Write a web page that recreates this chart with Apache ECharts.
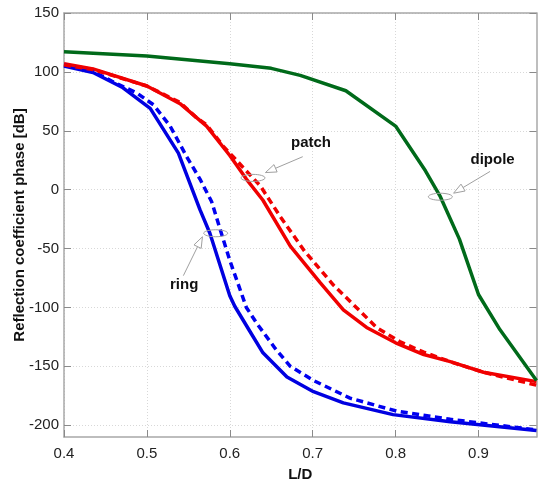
<!DOCTYPE html>
<html>
<head>
<meta charset="utf-8">
<script src="https://cdn.jsdelivr.net/npm/echarts@6/dist/echarts.min.js"></script>
<style>html,body{margin:0;padding:0;background:#fff}#c{width:538px;height:485px}</style>
</head>
<body>
<div id="c"></div>
<script>
// ---- data ----
const xTicks = [0.4, 0.5, 0.6, 0.7, 0.8, 0.9];
const yTicks = [-200, -150, -100, -50, 0, 50, 100, 150];

const dipole = [[0.4,117],[0.5,113.5],[0.6,107],[0.65,103],[0.685,97],[0.74,84],[0.8,54],[0.836,16],[0.854,-6],[0.877,-42],[0.9,-89],[0.926,-119],[0.97,-162]];

const patchSolid = [[0.4,107],[0.435,102.5],[0.5,88],[0.54,73],[0.572,54],[0.6,29],[0.62,9],[0.64,-9],[0.673,-48],[0.709,-79],[0.737,-102],[0.765,-117],[0.8,-130],[0.834,-140],[0.866,-146],[0.906,-155],[0.97,-163]];

const patchDashed = [[0.4,106],[0.435,102],[0.5,88],[0.54,74],[0.56,61],[0.572,55],[0.592,37],[0.604,28],[0.637,3],[0.661,-23],[0.69,-52],[0.725,-81],[0.757,-103],[0.777,-117],[0.805,-129],[0.834,-138],[0.87,-147],[0.906,-155],[0.97,-166]];

const ringSolid = [[0.4,105],[0.435,99.5],[0.47,87],[0.504,69],[0.538,31],[0.564,-17],[0.576,-37],[0.6,-90],[0.606,-99],[0.624,-120],[0.64,-138.5],[0.669,-159],[0.701,-171.5],[0.737,-181],[0.797,-191],[0.866,-197],[0.97,-204.5]];

const ringDashed = [[0.4,106],[0.435,100.5],[0.458,92],[0.488,82],[0.508,72],[0.528,54],[0.548,28],[0.564,9],[0.578,-10],[0.592,-42],[0.6,-60],[0.62,-100],[0.633,-114],[0.655,-135],[0.673,-150],[0.701,-162],[0.745,-177],[0.801,-188],[0.866,-195],[0.97,-204]];

// annotations: label, ellipse centre (x,y), label centre (x,y), arrow start (x,y), arrow tip (x,y)
const annoLabels = ['patch', 'ring', 'dipole'];
const annoEllipse = [[0.628, 10], [0.583, -37], [0.854, -6]];
const annoText = [[0.698, 40], [0.545, -81], [0.917, 25]];
const annoArrowFrom = [[0.688, 28], [0.544, -73], [0.914, 15.5]];
const annoArrowTo = [[0.643, 14.5], [0.567, -40], [0.870, -3]];

const annoData = annoLabels.map((l, i) => [
  annoEllipse[i][0], annoEllipse[i][1], annoText[i][0], annoText[i][1],
  annoArrowFrom[i][0], annoArrowFrom[i][1], annoArrowTo[i][0], annoArrowTo[i][1]
]);

// ---- chart ----
const FONT = '"Liberation Sans", Arial, sans-serif';
const chart = echarts.init(document.getElementById('c'), null, {renderer: 'canvas'});

const frameLine = {show: true, onZero: false, lineStyle: {color: '#a8a8a8', width: 1.5}};
const tickStyle = {color: '#8a8a8a', width: 1};
const gridLine = {show: true, lineStyle: {color: '#d8d8d8', type: [1, 2], width: 1}};

function lineSeries(name, data, color, dashed, z) {
  return {
    name, type: 'line', data, showSymbol: false, symbol: 'none', smooth: false,
    xAxisIndex: 0, yAxisIndex: 0, z,
    lineStyle: {color, width: 3.5, type: dashed ? [7, 4.5] : 'solid', cap: 'butt', join: 'round'},
    emphasis: {disabled: true}, silent: true
  };
}

chart.setOption({
  animation: false,
  backgroundColor: '#fff',
  grid: {left: 64, right: 1.5, top: 13, bottom: 48, containLabel: false, outerBoundsMode: 'none'},
  xAxis: [{
    type: 'value', min: 0.4, max: 0.97, position: 'bottom',
    axisLine: frameLine,
    axisTick: {show: true, inside: true, length: 7, customValues: xTicks, lineStyle: tickStyle},
    axisLabel: {customValues: xTicks, fontSize: 15, color: '#222', margin: 9, fontFamily: FONT},
    splitLine: gridLine,
    name: 'L/D', nameLocation: 'middle', nameGap: 30, nameMoveOverlap: false,
    nameTextStyle: {fontWeight: 'bold', fontSize: 15, color: '#111', fontFamily: FONT}
  }, {
    type: 'value', min: 0.4, max: 0.97, position: 'top',
    axisLine: frameLine,
    axisTick: {show: true, inside: true, length: 7, customValues: xTicks, lineStyle: tickStyle},
    axisLabel: {show: false}, splitLine: {show: false}
  }],
  yAxis: [{
    type: 'value', min: -210, max: 150, position: 'left',
    axisLine: frameLine,
    axisTick: {show: true, inside: true, length: 7, customValues: yTicks, lineStyle: tickStyle},
    axisLabel: {customValues: yTicks, fontSize: 15, color: '#222', margin: 5, fontFamily: FONT},
    splitLine: gridLine,
    name: 'Reflection coefficient phase [dB]', nameLocation: 'middle', nameGap: 37, nameRotate: 90,
    nameMoveOverlap: false,
    nameTextStyle: {fontWeight: 'bold', fontSize: 15, color: '#111', fontFamily: FONT}
  }, {
    type: 'value', min: -210, max: 150, position: 'right',
    axisLine: frameLine,
    axisTick: {show: true, inside: true, length: 7, customValues: yTicks, lineStyle: tickStyle},
    axisLabel: {show: false}, splitLine: {show: false}
  }],
  series: [
    lineSeries('ring dashed', ringDashed, '#0000f0', true, 3),
    lineSeries('ring', ringSolid, '#0000e0', false, 2),
    lineSeries('patch', patchSolid, '#f00000', false, 2),
    lineSeries('patch dashed', patchDashed, '#f00000', true, 3),
    lineSeries('dipole', dipole, '#006a1a', false, 4),
    {
      type: 'custom', xAxisIndex: 0, yAxisIndex: 0, z: 10, silent: true, clip: false,
      encode: {x: 0, y: 1},
      data: annoData,
      renderItem(params, api) {
        const i = params.dataIndex;
        const c = api.coord([api.value(0), api.value(1)]);
        const t = api.coord([api.value(2), api.value(3)]);
        const s = api.coord([api.value(4), api.value(5)]);
        const p = api.coord([api.value(6), api.value(7)]);
        let dx = p[0] - s[0], dy = p[1] - s[1];
        const len = Math.sqrt(dx * dx + dy * dy);
        dx /= len; dy /= len;
        const L = 11, W = 4;
        const bx = p[0] - dx * L, by = p[1] - dy * L;
        const nx = -dy, ny = dx;
        const stroke = '#a0a0a0';
        return {
          type: 'group',
          children: [
            {type: 'ellipse', shape: {cx: c[0], cy: c[1], rx: 12, ry: 3.5},
             style: {fill: 'none', stroke, lineWidth: 1}},
            {type: 'line', shape: {x1: s[0], y1: s[1], x2: bx, y2: by},
             style: {stroke, lineWidth: 1}},
            {type: 'polygon', shape: {points: [[p[0], p[1]], [bx + nx * W, by + ny * W], [bx - nx * W, by - ny * W]]},
             style: {fill: '#fff', stroke, lineWidth: 1}},
            {type: 'text', style: {text: annoLabels[i], x: t[0], y: t[1], align: 'center', verticalAlign: 'middle',
              font: 'bold 15px ' + FONT, fill: '#111'}}
          ]
        };
      }
    }
  ]
});
</script>
</body>
</html>
